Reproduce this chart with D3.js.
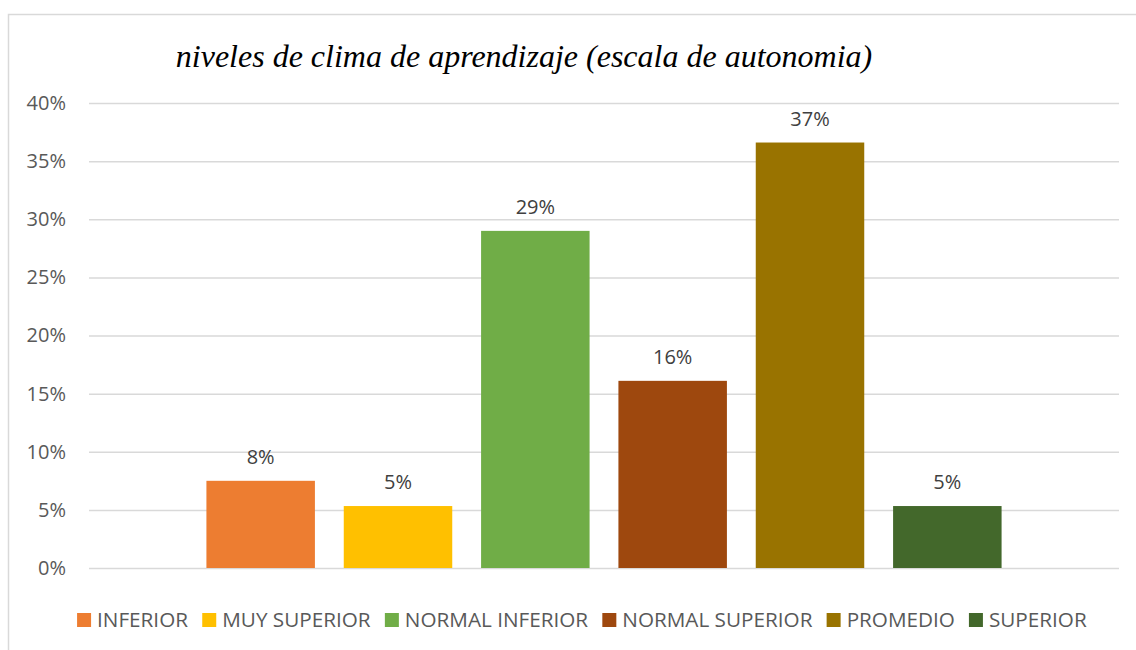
<!DOCTYPE html>
<html>
<head>
<meta charset="utf-8">
<script src="https://cdn.jsdelivr.net/npm/d3@7"></script>
<style>
  body { margin: 0; background: #fff; }
</style>
</head>
<body>
<div id="chart"></div>
<script>
// data
const categories = ["INFERIOR", "MUY SUPERIOR", "NORMAL INFERIOR", "NORMAL SUPERIOR", "PROMEDIO", "SUPERIOR"]
const values = [0.075, 0.0533, 0.29, 0.161, 0.366, 0.0533]
const labels = ["8%", "5%", "29%", "16%", "37%", "5%"]
const colors = ["#ED7D31", "#FFC000", "#70AD47", "#9E480E", "#997300", "#43682B"]
const yTicks = [0, 0.05, 0.10, 0.15, 0.20, 0.25, 0.30, 0.35, 0.40]
const title = "niveles de clima de aprendizaje (escala de autonomia)"

const W = 1136, H = 650
const margin = {top: 103, right: 17, bottom: 82, left: 89}
const width = W - margin.left - margin.right,
      height = H - margin.top - margin.bottom

const svg = d3.select("#chart")
    .append("svg")
    .attr("width", W)
    .attr("height", H)

// chart border (only left and top edges are in view)
svg.append("rect")
    .attr("x", 8.5).attr("y", 14.5)
    .attr("width", W + 20).attr("height", H + 20)
    .attr("fill", "none")
    .attr("stroke", "#d9d9d9")
    .attr("stroke-width", 1.5)

svg.append("text")
    .text(title)
    .attr("x", 524)
    .attr("y", 67)
    .attr("text-anchor", "middle")
    .style("font-family", "'Liberation Serif', 'DejaVu Serif', serif")
    .style("font-style", "italic")
    .style("font-size", "32px")
    .style("fill", "#000")

const g = svg.append("g")
    .attr("transform", "translate(" + margin.left + "," + margin.top + ")")

const x = d3.scaleBand()
    .domain(categories)
    .range([0, width])
    .paddingInner(0.21)
    .paddingOuter(0.855)

const y = d3.scaleLinear()
    .domain([0, 0.40])
    .range([height, 0])

// gridlines + y labels through an axis
const yAxis = g.append("g")
    .call(d3.axisLeft(y)
        .tickValues(yTicks)
        .tickSize(-width)
        .tickPadding(23)
        .tickFormat(d3.format(".0%")))
yAxis.select(".domain").remove()
yAxis.selectAll(".tick line")
    .attr("stroke", "#d9d9d9")
    .attr("stroke-width", 1.5)
yAxis.selectAll(".tick text")
    .style("font-family", "'Open Sans', sans-serif")
    .style("font-size", "20px")
    .style("fill", "#595959")

g.selectAll("rect.bar")
    .data(categories)
    .enter()
    .append("rect")
    .attr("class", "bar")
    .attr("x", d => x(d))
    .attr("width", x.bandwidth())
    .attr("y", (d, i) => y(values[i]))
    .attr("height", (d, i) => y(0) - y(values[i]))
    .attr("fill", (d, i) => colors[i])

g.selectAll("text.lbl")
    .data(categories)
    .enter()
    .append("text")
    .attr("class", "lbl")
    .attr("x", d => x(d) + x.bandwidth() / 2)
    .attr("y", (d, i) => y(values[i]) - 17)
    .attr("text-anchor", "middle")
    .text((d, i) => labels[i])
    .style("font-family", "'Open Sans', sans-serif")
    .style("font-size", "20px")
    .style("fill", "#404040")

// legend
const legend = svg.append("g")
const items = legend.selectAll("g")
    .data(categories)
    .enter()
    .append("g")
items.append("rect")
    .attr("width", 14).attr("height", 14)
    .attr("y", -14)
    .attr("fill", (d, i) => colors[i])
items.append("text")
    .attr("x", 20)
    .attr("y", 0)
    .text(d => d)
    .style("font-family", "'Open Sans', sans-serif")
    .style("font-size", "20.7px")
    .style("fill", "#595959")

let pos = 0
items.each(function () {
    d3.select(this).attr("transform", "translate(" + pos + ",0)")
    pos += this.getBBox().width + 14
})
pos -= 14
legend.attr("transform", "translate(" + (582 - pos / 2) + ",627)")
</script>
</body>
</html>
